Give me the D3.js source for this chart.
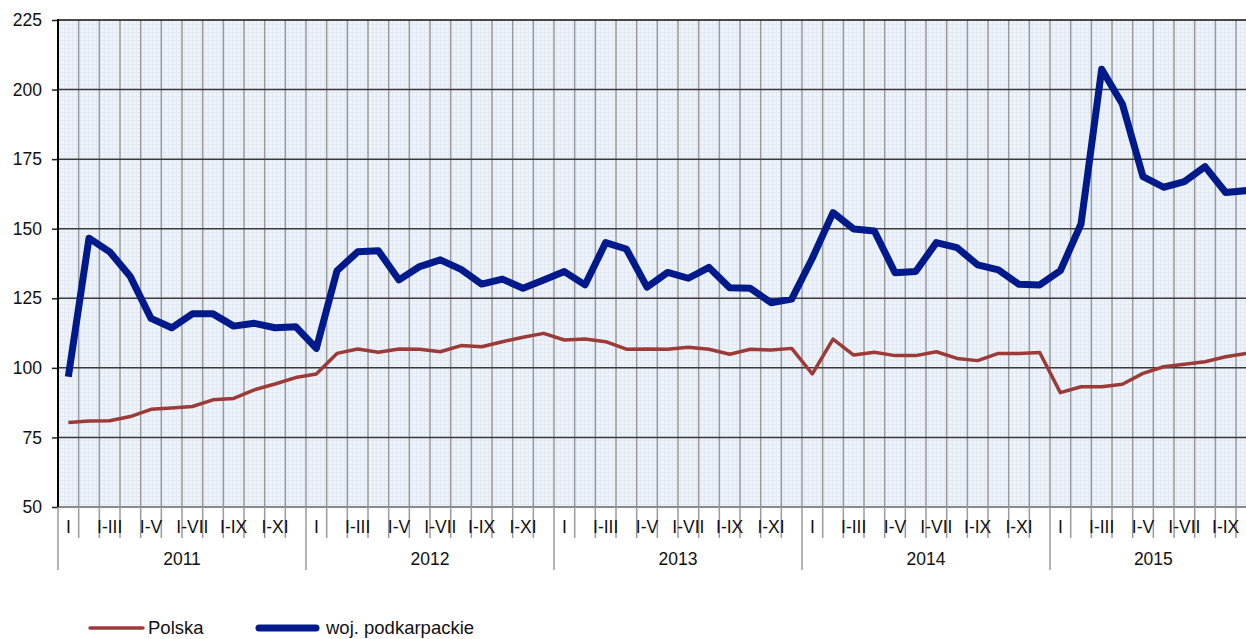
<!DOCTYPE html>
<html>
<head>
<meta charset="utf-8">
<script src="https://cdn.jsdelivr.net/npm/d3@7"></script>
<style>
  html, body { margin: 0; padding: 0; background: #fff; overflow: hidden; }
  #chart { width: 1246px; height: 639px; }
  text { font-family: "Liberation Sans", Arial, sans-serif; fill: #111; }
</style>
</head>
<body>
<div id="chart"></div>
<script>
// years and cumulative period labels (only every other one is printed)
const years = ["2011", "2012", "2013", "2014", "2015"];
const monthsPerYear = [12, 12, 12, 12, 10];
const periodLabels = ["I", "I-II", "I-III", "I-IV", "I-V", "I-VI", "I-VII", "I-VIII", "I-IX", "I-X", "I-XI", "I-XII"];
const yTicks = [50, 75, 100, 125, 150, 175, 200, 225];

const polska = [
  80.4, 80.9, 81.0, 82.5, 85.1, 85.6, 86.1, 88.5, 89.0, 92.1, 94.2, 96.5,
  97.8, 105.2, 106.8, 105.6, 106.8, 106.7, 105.8, 108.0, 107.6, 109.4, 111.0, 112.4,
  110.0, 110.4, 109.4, 106.7, 106.8, 106.7, 107.4, 106.7, 104.9, 106.7, 106.4, 107.0,
  97.8, 110.3, 104.6, 105.6, 104.4, 104.4, 105.8, 103.4, 102.6, 105.2, 105.2, 105.5,
  91.1, 93.2, 93.2, 94.1, 98.0, 100.4, 101.3, 102.2, 104.0, 105.2
];
const podkarpackie = [
  96.8, 146.6, 141.7, 132.8, 117.8, 114.4, 119.4, 119.4, 115.0, 116.0, 114.4, 114.8,
  107.0, 134.9, 141.7, 142.1, 131.6, 136.4, 138.8, 135.4, 130.1, 131.9, 128.6, 131.6,
  134.6, 129.8, 145.0, 142.7, 129.0, 134.3, 132.2, 136.1, 128.8, 128.6, 123.4, 124.7,
  139.4, 155.8, 149.9, 149.2, 134.2, 134.6, 145.0, 143.2, 137.0, 135.2, 130.0, 129.8,
  134.9, 151.7, 207.3, 194.8, 168.7, 164.9, 166.9, 172.3, 163.0, 163.7
];

const W = 1246, H = 639;
const plotLeft = 58, plotTop = 20, plotBottom = 507;
const monthW = 20.667;
const fontSize = "17.5px";

// build month keys
const months = [];
years.forEach((yr, yi) => {
  for (let m = 0; m < monthsPerYear[yi]; m++) months.push({ key: yr + "-" + m, year: yr, m: m });
});
const plotRight = plotLeft + months.length * monthW;

const svg = d3.select("#chart").append("svg")
  .attr("width", W).attr("height", H)
  .attr("viewBox", `0 0 ${W} ${H}`);

const x = d3.scaleBand().domain(months.map(d => d.key)).range([plotLeft, plotRight]).padding(0);
const y = d3.scaleLinear().domain([50, 225]).range([plotBottom, plotTop]);
const cx = i => x(months[i].key) + x.bandwidth() / 2;

// plot background with fine texture
const defs = svg.append("defs");
const pat = defs.append("pattern").attr("id", "tex")
  .attr("width", 4).attr("height", 4).attr("patternUnits", "userSpaceOnUse");
pat.append("rect").attr("width", 4).attr("height", 4).attr("fill", "#eef3fa");
pat.append("rect").attr("width", 1).attr("height", 4).attr("fill", "#e3eaf4");
pat.append("rect").attr("width", 4).attr("height", 1).attr("fill", "#e3eaf4");

svg.append("rect")
  .attr("x", plotLeft).attr("y", plotTop)
  .attr("width", plotRight - plotLeft).attr("height", plotBottom - plotTop)
  .attr("fill", "url(#tex)");

// vertical month gridlines
const gridG = svg.append("g");
gridG.selectAll(".vgrid")
  .data(months.slice(1))
  .join("line")
  .attr("class", "vgrid")
  .attr("x1", d => x(d.key)).attr("x2", d => x(d.key))
  .attr("y1", plotTop).attr("y2", plotBottom)
  .attr("stroke", "#9a9a9a").attr("stroke-width", 1.5);

// horizontal gridlines
gridG.selectAll(".hgrid")
  .data(yTicks.slice(1))
  .join("line")
  .attr("class", "hgrid")
  .attr("x1", plotLeft).attr("x2", plotRight)
  .attr("y1", d => y(d)).attr("y2", d => y(d))
  .attr("stroke", d => d === 225 ? "#111" : "#3a3a3a").attr("stroke-width", 1.5);

// bottom axis line
svg.append("line")
  .attr("x1", plotLeft).attr("x2", plotRight)
  .attr("y1", plotBottom).attr("y2", plotBottom)
  .attr("stroke", "#8a8a8a").attr("stroke-width", 2);

// y axis
const yAxis = d3.axisLeft(y).tickValues(yTicks).tickSize(6).tickPadding(10);
const yg = svg.append("g").attr("transform", `translate(${plotLeft},0)`).call(yAxis);
yg.select(".domain").remove();
yg.selectAll(".tick line").attr("stroke", "#222").attr("stroke-width", 1.5);
yg.selectAll(".tick text")
  .attr("font-size", fontSize)
  .attr("font-family", "Liberation Sans, Arial, sans-serif")
  .attr("fill", "#111");
svg.append("line")
  .attr("x1", plotLeft).attr("x2", plotLeft)
  .attr("y1", plotTop - 1).attr("y2", plotBottom)
  .attr("stroke", "#000").attr("stroke-width", 2);

// month tick lines below the axis and year separators
const tickG = svg.append("g");
tickG.selectAll(".mtick")
  .data(d3.range(months.length + 1))
  .join("line")
  .attr("class", "mtick")
  .attr("x1", i => i < months.length ? x(months[i].key) : plotRight)
  .attr("x2", i => i < months.length ? x(months[i].key) : plotRight)
  .attr("y1", plotBottom)
  .attr("y2", i => (i < months.length && months[i].m === 0) || i === months.length ? 570 : 538)
  .attr("stroke", "#9a9a9a").attr("stroke-width", 1.5);

// month labels (every other period), centred on the month
tickG.selectAll(".mlabel")
  .data(months.filter(d => d.m % 2 === 0))
  .join("text")
  .attr("class", "mlabel")
  .attr("x", d => x(d.key) + x.bandwidth() / 2)
  .attr("y", 528)
  .attr("text-anchor", "middle")
  .attr("dominant-baseline", "middle")
  .attr("font-size", fontSize)
  .text(d => periodLabels[d.m]);

// year labels
tickG.selectAll(".ylabel")
  .data(years)
  .join("text")
  .attr("class", "ylabel")
  .attr("x", (d, i) => {
    const first = months.findIndex(m => m.year === d);
    const last = first + monthsPerYear[i];
    return (x(months[first].key) + (last < months.length ? x(months[last].key) : plotRight)) / 2;
  })
  .attr("y", 560)
  .attr("text-anchor", "middle")
  .attr("dominant-baseline", "middle")
  .attr("font-size", fontSize)
  .text(d => d);

// series lines
const line = d3.line().x((d, i) => cx(i)).y(d => y(d));
svg.append("path")
  .datum(polska)
  .attr("d", line)
  .attr("fill", "none")
  .attr("stroke", "#9c3a37")
  .attr("stroke-width", 3.5)
  .attr("stroke-linejoin", "round");
svg.append("path")
  .datum(podkarpackie)
  .attr("d", line)
  .attr("fill", "none")
  .attr("stroke", "#001a8c")
  .attr("stroke-width", 7)
  .attr("stroke-linejoin", "round");

// legend
const legend = [
  { name: "Polska", color: "#9c3a37", width: 3.5, x0: 90, x1: 143, tx: 148 },
  { name: "woj. podkarpackie", color: "#001a8c", width: 7, x0: 259, x1: 316, tx: 326 }
];
const lg = svg.append("g");
lg.selectAll("line")
  .data(legend)
  .join("line")
  .attr("x1", d => d.x0).attr("x2", d => d.x1)
  .attr("y1", 628).attr("y2", 628)
  .attr("stroke", d => d.color)
  .attr("stroke-width", d => d.width)
  .attr("stroke-linecap", "round");
lg.selectAll("text")
  .data(legend)
  .join("text")
  .attr("x", d => d.tx)
  .attr("y", 634)
  .attr("font-size", "18.5px")
  .text(d => d.name);
</script>
</body>
</html>
